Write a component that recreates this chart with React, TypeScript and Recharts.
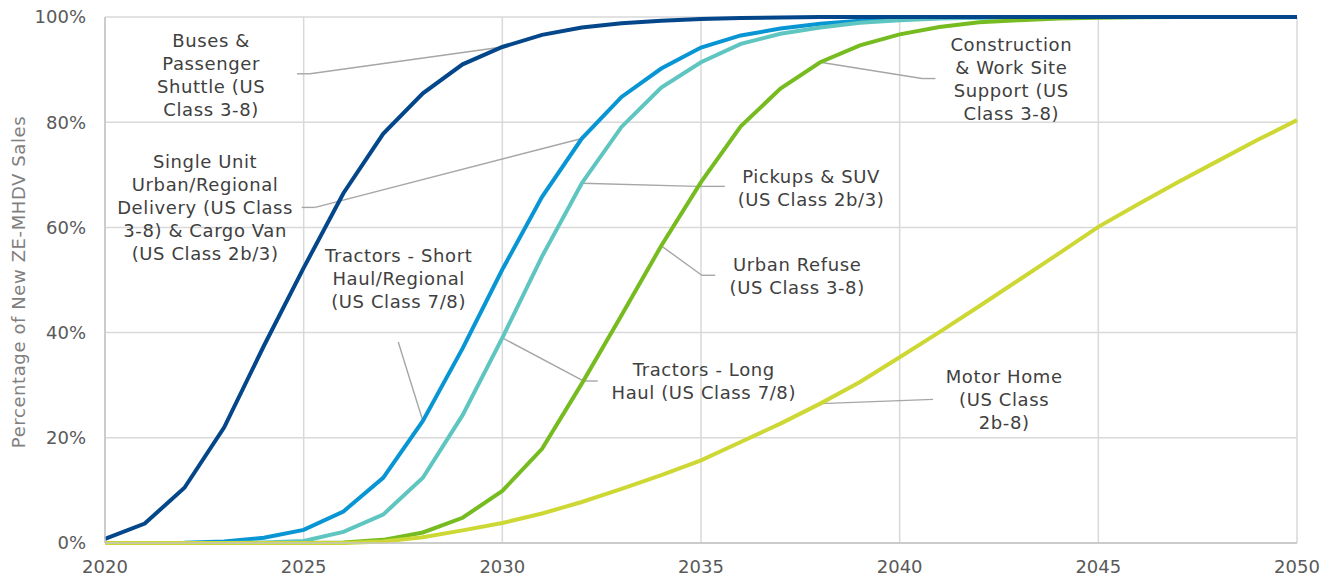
import React from 'react';
import {
  LineChart,
  Line,
  XAxis,
  YAxis,
  CartesianGrid,
  ReferenceLine,
  ReferenceDot,
} from 'recharts';

// years on the x axis
const years = [
  2020, 2021, 2022, 2023, 2024, 2025, 2026, 2027, 2028, 2029, 2030,
  2031, 2032, 2033, 2034, 2035, 2036, 2037, 2038, 2039, 2040,
  2041, 2042, 2043, 2044, 2045, 2046, 2047, 2048, 2049, 2050,
];

// share of new ZE-MHDV sales (%)
const busesShuttle = [
  0.8, 3.7, 10.5, 22, 37.5, 52.3, 66.5, 77.8, 85.5, 91, 94.3,
  96.6, 98, 98.8, 99.3, 99.6, 99.8, 99.9, 100, 100, 100,
  100, 100, 100, 100, 100, 100, 100, 100, 100, 100,
];
const deliveryShortHaul = [
  0, 0, 0.05, 0.3, 1, 2.5, 6, 12.4, 23.2, 37, 52,
  65.8, 76.9, 84.8, 90.2, 94.2, 96.5, 97.8, 98.7, 99.3, 99.6,
  99.8, 99.9, 100, 100, 100, 100, 100, 100, 100, 100,
];
const pickupsLongHaul = [
  0, 0, 0, 0, 0.1, 0.4, 2.1, 5.4, 12.4, 24.3, 39,
  54.5, 68.4, 79.1, 86.6, 91.4, 94.9, 96.8, 98, 98.9, 99.4,
  99.7, 99.85, 99.95, 100, 100, 100, 100, 100, 100, 100,
];
const refuseConstruction = [
  0, 0, 0, 0, 0, 0, 0.1, 0.6, 2, 4.8, 9.9,
  17.9, 30.3, 43.3, 56.5, 68.6, 79.2, 86.4, 91.4, 94.6, 96.7,
  98.1, 99, 99.4, 99.7, 99.85, 99.95, 100, 100, 100, 100,
];
const motorHome = [
  0, 0, 0, 0, 0, 0, 0, 0.3, 1.1, 2.4, 3.8,
  5.6, 7.8, 10.3, 12.9, 15.7, 19.2, 22.7, 26.5, 30.6, 35.3,
  40.1, 45, 50, 55, 60.1, 64.4, 68.6, 72.6, 76.6, 80.4,
];

const xTicks = [2020, 2025, 2030, 2035, 2040, 2045, 2050];
const yTicks = [0, 20, 40, 60, 80, 100];

const chartData = years.map((year, i) => ({
  year,
  buses: busesShuttle[i],
  delivery: deliveryShortHaul[i],
  pickups: pickupsLongHaul[i],
  refuse: refuseConstruction[i],
  motorHome: motorHome[i],
}));

// callout text, placed in data coordinates
const callouts = [
  { x: 2022.67, y: 89.0, lines: ['Buses &', 'Passenger', 'Shuttle (US', 'Class 3-8)'] },
  { x: 2022.52, y: 63.7, lines: ['Single Unit', 'Urban/Regional', 'Delivery (US Class', '3-8) & Cargo Van', '(US Class 2b/3)'] },
  { x: 2027.39, y: 50.3, lines: ['Tractors - Short', 'Haul/Regional', '(US Class 7/8)'] },
  { x: 2037.77, y: 67.5, lines: ['Pickups & SUV', '(US Class 2b/3)'] },
  { x: 2037.42, y: 50.7, lines: ['Urban Refuse', '(US Class 3-8)'] },
  { x: 2035.07, y: 30.7, lines: ['Tractors - Long', 'Haul (US Class 7/8)'] },
  { x: 2042.81, y: 88.2, lines: ['Construction', '& Work Site', 'Support (US', 'Class 3-8)'] },
  { x: 2042.63, y: 27.2, lines: ['Motor Home', '(US Class', '2b-8)'] },
];

// leader lines from callouts to the series (polyline points)
const leaders = [
  [[2024.83, 89.2], [2025.16, 89.2], [2030, 94.3]],
  [[2024.95, 63.8], [2025.29, 63.8], [2032, 76.9]],
  [[2027.38, 38.2], [2028, 23.2]],
  [[2032, 68.4], [2034.9, 67.8], [2035.6, 67.8]],
  [[2034, 56.5], [2035.02, 50.9], [2035.36, 50.9]],
  [[2030, 39], [2032.04, 30.8], [2032.4, 30.8]],
  [[2038, 91.4], [2040.56, 88.3], [2040.9, 88.3]],
  [[2038, 26.5], [2040.84, 27.3]],
];

const FONT = 'DejaVu Sans';

const CalloutText = ({ cx, cy, lines }: { cx: number; cy: number; lines: string[] }) => (
  <text
    x={cx}
    y={cy}
    textAnchor="middle"
    fill="#404040"
    fontSize={18}
    fontFamily={FONT}
    letterSpacing={0.6}
  >
    {lines.map((line, i) => (
      <tspan key={i} x={cx} y={cy + (i - (lines.length - 1) / 2) * 23} dy="0.36em">
        {line}
      </tspan>
    ))}
  </text>
);

const YLabel = ({ viewBox }: any) => {
  const vb = viewBox || { x: 0, y: 17, width: 105, height: 526 };
  const x = vb.x + 18;
  const y = vb.y + vb.height / 2 + 2;
  return (
    <text
      x={x}
      y={y}
      transform={`rotate(-90, ${x}, ${y})`}
      textAnchor="middle"
      dominantBaseline="central"
      fill="#7f7f7f"
      fontSize={18}
      fontFamily={FONT}
      letterSpacing={0.6}
    >
      Percentage of New ZE-MHDV Sales
    </text>
  );
};

export default function App() {
  return (
    <div style={{ position: 'absolute', left: 0, top: 0, width: 1335, height: 581, background: '#fff' }}>
      <LineChart
        width={1335}
        height={581}
        data={chartData}
        margin={{ top: 17, right: 38, bottom: 0, left: 0 }}
      >
        <CartesianGrid stroke="#d9d9d9" strokeWidth={1.5} />
        <XAxis
          dataKey="year"
          type="number"
          domain={[2020, 2050]}
          ticks={xTicks}
          interval={0}
          height={38}
          tickSize={0}
          tickMargin={17}
          tickLine={false}
          axisLine={{ stroke: '#c4c4c4', strokeWidth: 1.5 }}
          tick={{ fill: '#595959', fontSize: 18, fontFamily: FONT }}
        />
        <YAxis
          type="number"
          domain={[0, 100]}
          ticks={yTicks}
          interval={0}
          width={105}
          tickSize={0}
          tickMargin={19}
          tickLine={false}
          axisLine={{ stroke: '#c4c4c4', strokeWidth: 1.5 }}
          tickFormatter={(v: number) => `${v}%`}
          tick={{ fill: '#595959', fontSize: 18, fontFamily: FONT }}
          label={{ content: YLabel }}
        />
        {leaders.map((pts, li) =>
          pts.slice(1).map((p, i) => (
            <ReferenceLine
              key={`leader-${li}-${i}`}
              segment={[
                { x: pts[i][0], y: pts[i][1] },
                { x: p[0], y: p[1] },
              ]}
              stroke="#a6a6a6"
              strokeWidth={1.4}
              ifOverflow="visible"
            />
          ))
        )}
        <Line type="linear" dataKey="delivery" name="Single Unit Delivery / Tractors - Short Haul" stroke="#0895d3" strokeWidth={4} dot={false} isAnimationActive={false} />
        <Line type="linear" dataKey="pickups" name="Pickups & SUV / Tractors - Long Haul" stroke="#5ec5c0" strokeWidth={4} dot={false} isAnimationActive={false} />
        <Line type="linear" dataKey="refuse" name="Urban Refuse / Construction" stroke="#76bc21" strokeWidth={4} dot={false} isAnimationActive={false} />
        <Line type="linear" dataKey="motorHome" name="Motor Home" stroke="#cdd834" strokeWidth={4} dot={false} isAnimationActive={false} />
        <Line type="linear" dataKey="buses" name="Buses & Passenger Shuttle" stroke="#03478a" strokeWidth={4} dot={false} isAnimationActive={false} />
        {callouts.map((c, i) => (
          <ReferenceDot
            key={`callout-${i}`}
            x={c.x}
            y={c.y}
            r={0}
            ifOverflow="visible"
            shape={(p: any) => <CalloutText cx={p.cx} cy={p.cy} lines={c.lines} />}
          />
        ))}
      </LineChart>
    </div>
  );
}
